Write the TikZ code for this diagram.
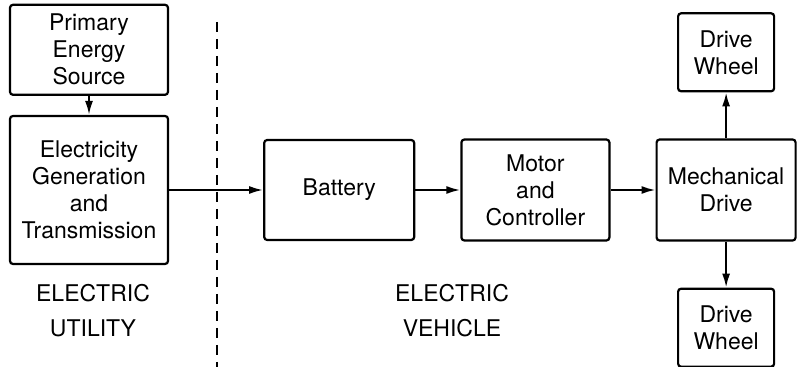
\documentclass[tikz,border=0pt]{standalone}
\usepackage{fontspec}
\setmainfont{TeX Gyre Heros}
\usetikzlibrary{arrows.meta,positioning}

\begin{document}
\begin{tikzpicture}[font=\fontsize{11.5}{13.5}\selectfont,
    blk/.style={draw,line width=1.1pt,rounded corners=1.5pt,align=center,inner sep=2pt},
    ar/.style={-{Latex[length=7pt,width=4pt]},line width=1pt}]
  \useasboundingbox (0,0) rectangle (400.5pt,-183.5pt);

  % utility side
  \node[blk,minimum width=79pt,minimum height=74pt] (gen) at (44.5pt,-95pt)
    {Electricity\\Generation\\and\\Transmission};
  \node[blk,minimum width=79pt,minimum height=45pt,above=9.5pt of gen] (src)
    {Primary\\Energy\\Source};

  % vehicle side
  \node[blk,minimum width=75pt,minimum height=50pt,right=47pt of gen] (bat) {Battery};
  \node[blk,minimum width=74pt,minimum height=50.5pt,right=22.5pt of bat] (mot)
    {Motor\\and\\Controller};
  \node[blk,minimum width=69.5pt,minimum height=50.5pt,right=22.5pt of mot] (mech)
    {Mechanical\\Drive};
  \node[blk,minimum width=48pt,minimum height=39pt,above=23pt of mech] (whtop) {Drive\\Wheel};
  \node[blk,minimum width=48pt,minimum height=39pt,below=23pt of mech] (whbot) {Drive\\Wheel};

  \draw[ar] (src) -- (gen);
  \draw[ar] (gen) -- (bat);
  \draw[ar] (bat) -- (mot);
  \draw[ar] (mot) -- (mech);
  \draw[ar] (mech) -- (whtop);
  \draw[ar] (mech) -- (whbot);

  % boundary
  \draw[line width=1pt,dash pattern=on 5pt off 3.5pt] (108.5pt,-11pt) -- (108.5pt,-183.5pt);

  \node[align=center] (util) at (46.5pt,-155.5pt) {ELECTRIC\\[4pt]UTILITY};
  \node[align=center] (veh) at (226pt,-155.5pt) {ELECTRIC\\[4pt]VEHICLE};
\end{tikzpicture}
\end{document}
